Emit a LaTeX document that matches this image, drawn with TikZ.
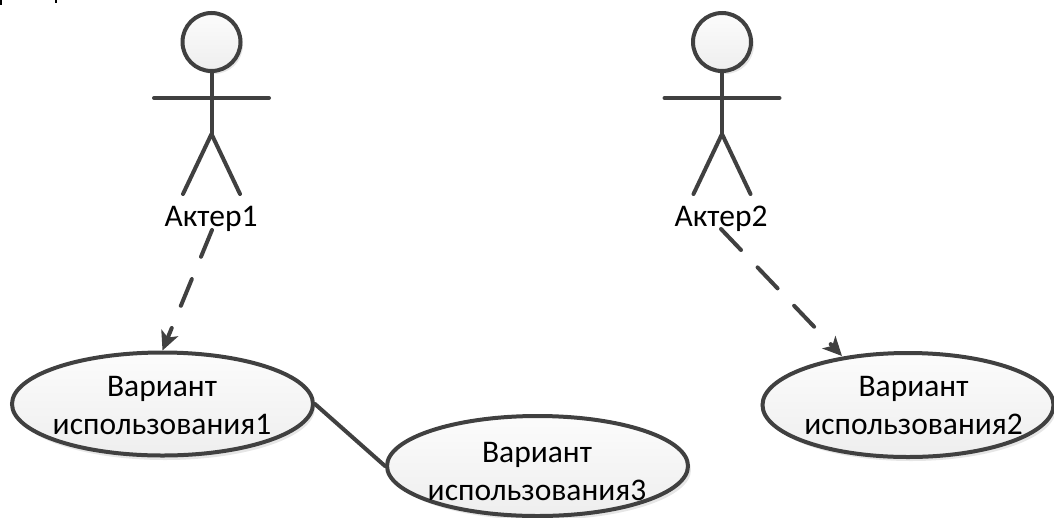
\documentclass[tikz,border=0pt]{standalone}
\usepackage{fontspec}
\setmainfont{Carlito}
\usetikzlibrary{arrows.meta,shapes.geometric}
\definecolor{ln}{HTML}{404040}
\definecolor{flt}{HTML}{FCFCFC}
\definecolor{flb}{HTML}{EEEEEE}
\definecolor{shd}{HTML}{E6E6E6}
\tikzset{x=1pt,y=-1pt,
  stroke/.style={draw=ln,line width=4pt,line cap=round},
  usecase/.style={ellipse,draw=ln,line width=4pt,top color=flt,bottom color=flb,inner sep=0pt},
  usetext/.style={text=black,align=center,font=\fontsize{31.5}{38}\selectfont},
  actorhead/.style={circle,draw=ln,line width=4pt,top color=flt,bottom color=flb,minimum size=58pt,inner sep=0pt},
  actortext/.style={text=black,font=\fontsize{31.5}{38}\selectfont,inner sep=0pt},
  flow/.style={stroke,dash pattern=on 29pt off 24pt,-{Stealth[length=19pt,width=18pt,inset=5pt]}},
}
\begin{document}
\begin{tikzpicture}
\useasboundingbox (0,0) rectangle (1054,517);
\clip (0,0) rectangle (1054,517);
% fragments at the top edge
\fill[black] (0,0) rectangle (2,5);
\fill[black] (55,0) rectangle (57,3);
% shadows
\fill[shd] (214,45) circle (29);
\fill[shd] (725,45) circle (29);
\fill[shd] (165,408) ellipse [x radius=150,y radius=52];
\fill[shd] (911,409) ellipse [x radius=145,y radius=52];
\fill[shd] (541,470) ellipse [x radius=150,y radius=50];
% actor 1
\node[actorhead] (head1) at (211.5,42) {};
\coordinate (hip1) at (211.5,134);
\coordinate (armL1) at (154,98); \coordinate (armR1) at (269,98);
\coordinate (legL1) at (183,194); \coordinate (legR1) at (240,194);
\draw[stroke] (head1.south) -- (hip1);
\draw[stroke] (armL1) -- (armR1);
\draw[stroke,line join=round] (legL1) -- (hip1) -- (legR1);
\node[actortext] (a1) at (211,219) {Актер1};
% actor 2
\node[actorhead] (head2) at (722,42) {};
\coordinate (hip2) at (722,134);
\coordinate (armL2) at (664.5,98); \coordinate (armR2) at (779.5,98);
\coordinate (legL2) at (693.5,194); \coordinate (legR2) at (750.5,194);
\draw[stroke] (head2.south) -- (hip2);
\draw[stroke] (armL2) -- (armR2);
\draw[stroke,line join=round] (legL2) -- (hip2) -- (legR2);
\node[actortext] (a2) at (721,219) {Актер2};
% use cases
\node[usecase,minimum width=301pt,minimum height=103pt] (u1) at (162.5,404) {};
\node[usecase,minimum width=291pt,minimum height=104pt] (u2) at (908,405) {};
\node[usecase,minimum width=301pt,minimum height=100pt] (u3) at (537.5,466) {};
\node[usetext] (u1t) at (162,406) {Вариант\\использования1};
\node[usetext] (u2t) at (913.5,406) {Вариант\\использования2};
\node[usetext] (u3t) at (537,472) {Вариант\\использования3};
% connectors
\coordinate (s1) at (212,230);
\coordinate (s2) at (721,229);
\draw[flow] (s1) -- (u1.north);
\draw[flow] (s2) -- (842,356);
\draw[stroke] (u1.east) -- (u3.west);
\end{tikzpicture}
\end{document}
